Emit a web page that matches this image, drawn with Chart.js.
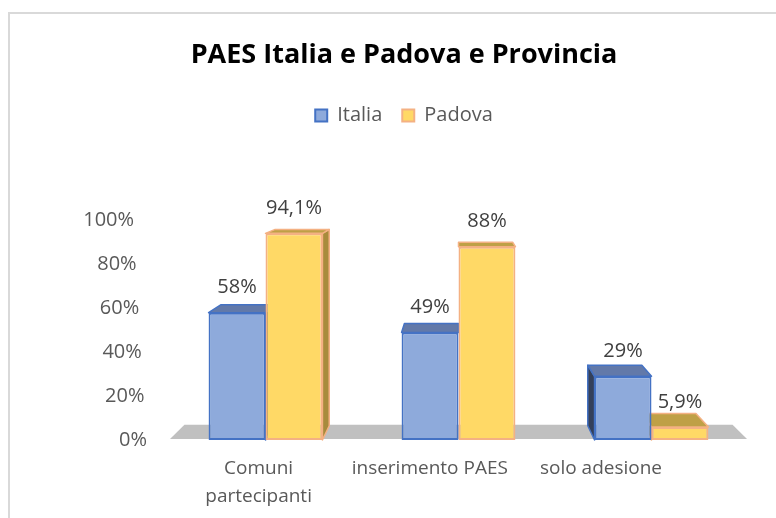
<!DOCTYPE html>
<html><head><meta charset="utf-8">
<script src="https://cdn.jsdelivr.net/npm/chart.js@4.4.1/dist/chart.umd.min.js"></script>
<style>
html,body{margin:0;padding:0;background:#fff;overflow:hidden;width:776px;height:518px;}
#frame{position:absolute;left:8px;top:12px;width:800px;height:540px;border:2px solid #d9d9d9;box-sizing:border-box;}
#wrap{position:absolute;left:0;top:0;width:776px;height:518px;}
</style></head><body>
<div id="frame"></div>
<div id="wrap"><canvas id="c" width="776" height="518"></canvas></div>
<script>
// ---- data ----
const categories = [["Comuni", "partecipanti"], "inserimento PAES", "solo adesione"];
const seriesNames = ["Italia", "Padova"];
const italia = [58, 49, 29];
const padova = [94.1, 88, 5.9];
const yTicks = [0, 20, 40, 60, 80, 100];
const titleText = "PAES Italia e Padova e Provincia";

// ---- styles ----
const FONT = '"Open Sans", "Liberation Sans", sans-serif';
const faceColors = [
  { front: '#8eaadb', edge: '#4472c4', top: '#6279a9', side: '#34405a' },
  { front: '#ffd966', edge: '#f4b183', top: '#bfa046', side: '#a88b3c' }
];
const DEPTH = 0.05;
const fmt = v => String(v).replace('.', ',') + '%';

function vanish(chart) {
  const ca = chart.chartArea;
  return { x: (ca.left + ca.right) / 2, y: chart.scales.y.getPixelForValue(130) };
}
function back(p, V) { return { x: p.x + (V.x - p.x) * DEPTH, y: p.y + (V.y - p.y) * DEPTH }; }
function poly(ctx, pts, fill, stroke) {
  ctx.beginPath();
  pts.forEach((p, i) => i ? ctx.lineTo(p.x, p.y) : ctx.moveTo(p.x, p.y));
  ctx.closePath();
  ctx.fillStyle = fill; ctx.fill();
  if (stroke) { ctx.strokeStyle = stroke; ctx.lineWidth = 1.5; ctx.lineJoin = 'round'; ctx.stroke(); }
}

const legendGap = {
  id: 'legendGap',
  beforeInit(chart) {
    const lg = chart.legend;
    const f = lg.fit;
    lg.fit = function () { f.call(this); this.height += 85; };
  }
};

const bar3d = {
  id: 'bar3d',
  beforeDatasetsDraw(chart) {
    const ctx = chart.ctx, ca = chart.chartArea, ys = chart.scales.y, V = vanish(chart);
    const y0 = ys.getPixelForValue(0);
    ctx.save();
    const fl = { x: ca.left + 1, y: y0 - 1 }, fr = { x: ca.right - 1, y: y0 - 1 };
    poly(ctx, [fl, fr, back(fr, V), back(fl, V)], '#c0c0c0');
    chart.data.datasets.forEach((ds, di) => {
      const meta = chart.getDatasetMeta(di);
      const fc = faceColors[di];
      meta.data.forEach(bar => {
        const { x, y, base, width } = bar.getProps(['x', 'y', 'base', 'width'], true);
        const L = x - width / 2, R = x + width / 2;
        const tl = { x: L, y }, tr = { x: R, y }, bl = { x: L, y: base }, br = { x: R, y: base };
        if (V.x > R + 1) poly(ctx, [tr, br, back(br, V), back(tr, V)], fc.side, fc.edge);
        if (V.x < L - 1) poly(ctx, [tl, bl, back(bl, V), back(tl, V)], fc.side, fc.edge);
        poly(ctx, [tl, tr, back(tr, V), back(tl, V)], fc.top, fc.edge);
      });
    });
    ctx.restore();
  },
  afterDatasetsDraw(chart) {
    const ctx = chart.ctx;
    ctx.save();
    ctx.font = '20px ' + FONT;
    ctx.fillStyle = '#404040';
    ctx.textAlign = 'center';
    ctx.textBaseline = 'middle';
    chart.data.datasets.forEach((ds, di) => {
      chart.getDatasetMeta(di).data.forEach((bar, i) => {
        const { x, y } = bar.getProps(['x', 'y'], true);
        ctx.fillText(fmt(ds.data[i]), x, y - 25);
      });
    });
    ctx.restore();
  },
  afterDraw(chart) {
    const ctx = chart.ctx, ca = chart.chartArea, ys = chart.scales.y, xs = chart.scales.x;
    const y0 = ys.getPixelForValue(0);
    ctx.save();
    ctx.fillStyle = '#595959';
    ctx.font = '20px ' + FONT;
    ctx.textAlign = 'right';
    ctx.textBaseline = 'middle';
    yTicks.forEach(v => {
      const py = ys.getPixelForValue(v);
      ctx.fillText(v + '%', ca.left - 22 - (y0 - py) * 0.059, py);
    });
    ctx.font = '19px ' + FONT;
    ctx.textAlign = 'center';
    categories.forEach((lab, i) => {
      const px = xs.getPixelForValue(i);
      const lx = ca.left + (px - ca.left) * 0.887 + 4;
      const lines = Array.isArray(lab) ? lab : [lab];
      lines.forEach((t, j) => ctx.fillText(t, lx, y0 + 29 + j * 28));
    });
    ctx.restore();
  }
};

const hidden = { ticks: { display: false }, grid: { display: false }, border: { display: false } };

new Chart(document.getElementById('c'), {
  type: 'bar',
  data: {
    labels: categories,
    datasets: [
      { label: seriesNames[0], data: italia, backgroundColor: faceColors[0].front, borderColor: faceColors[0].edge, borderWidth: 2, borderSkipped: false },
      { label: seriesNames[1], data: padova, backgroundColor: faceColors[1].front, borderColor: faceColors[1].edge, borderWidth: 2, borderSkipped: false }
    ]
  },
  options: {
    responsive: false,
    animation: false,
    layout: { padding: { left: 32, right: 0, bottom: 0, top: 0 } },
    categoryPercentage: 0.59,
    barPercentage: 1.0,
    scales: {
      x: Object.assign({ display: true, afterFit(s) { s.height = 78; } }, hidden),
      y: Object.assign({ display: true, position: 'left', min: 0, max: 100, afterFit(s) { s.width = 137; } }, hidden),
      yR: Object.assign({ type: 'linear', display: true, position: 'right', min: 0, max: 100, afterFit(s) { s.width = 28; } }, hidden)
    },
    plugins: {
      tooltip: { enabled: false },
      title: {
        display: true, text: titleText, color: '#000',
        font: { family: FONT, size: 27, weight: 'bold' },
        padding: { top: 39, bottom: 14 }
      },
      legend: {
        display: true, position: 'top',
        labels: { boxWidth: 12, boxHeight: 12, padding: 20, color: '#595959', font: { family: FONT, size: 20 } }
      }
    }
  },
  plugins: [legendGap, bar3d]
});
</script>
</body></html>
